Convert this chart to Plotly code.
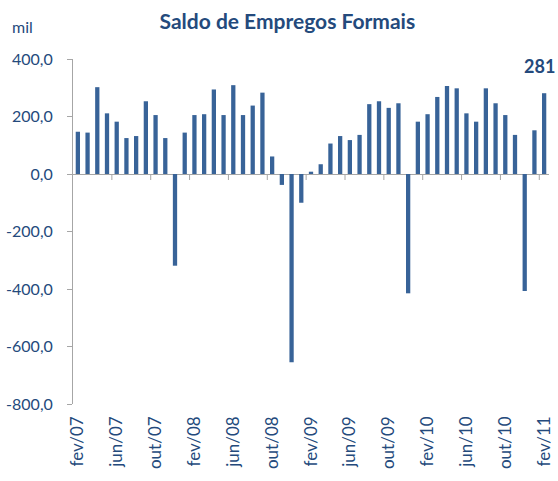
import plotly.graph_objects as go

months = ["jan", "fev", "mar", "abr", "mai", "jun", "jul", "ago", "set", "out", "nov", "dez"]
categories = []
for yr in range(7, 12):
    for m in months:
        categories.append(f"{m}/{yr:02d}")
categories = categories[1:50]  # fev/07 .. fev/11

values = [147, 144, 302, 211, 182, 125, 132, 253, 205, 125, -319,
          144, 205, 208, 294, 205, 309, 205, 238, 283, 61, -38, -655,
          -100, 8, 34, 106, 132, 118, 136, 243, 253, 230, 246, -415,
          182, 208, 268, 306, 298, 211, 182, 298, 246, 205, 136, -407,
          152, 281]

tick_labels = categories[::4]
last_label = "281"

BAR = "#386398"
TXT = "#244A7C"
GRID = "#A6A6A6"
FONT = "Lato, Open Sans, sans-serif"

fig = go.Figure(go.Bar(x=categories, y=values, marker=dict(color=BAR, line=dict(width=0)),
                       hoverinfo="x+y"))

shapes = []
n = len(categories)
for k in range(3, n, 4):
    b = k + 0.5
    if b < n - 0.5:
        shapes.append(dict(type="line", xref="x", yref="y", ysizemode="pixel", yanchor=0,
                           x0=b, x1=b, y0=0, y1=-6, line=dict(color=GRID, width=1)))

fig.update_layout(
    width=558, height=481,
    margin=dict(l=73, r=9, t=59, b=77, autoexpand=False),
    paper_bgcolor="white", plot_bgcolor="white",
    bargap=0.56,
    showlegend=False,
    font=dict(family=FONT, color=TXT),
    title=dict(text="<b>Saldo de Empregos Formais</b>", x=0.515, xanchor="center", y=0.955,
               yanchor="middle", font=dict(size=21, color=TXT, family=FONT)),
    xaxis=dict(type="category", tickmode="array", tickvals=tick_labels, ticktext=tick_labels,
               range=[-0.5, n - 0.5],
               tickangle=-90, ticks="", showline=False, showgrid=False, zeroline=False,
               automargin=False,
               tickfont=dict(size=17, color=TXT, family=FONT), ticklabelstandoff=8),
    yaxis=dict(range=[-800, 400], tickvals=[-800, -600, -400, -200, 0, 200, 400],
               ticktext=["-800,0", "-600,0", "-400,0", "-200,0", "0,0", "200,0", "400,0"],
               showgrid=False, zeroline=True, zerolinecolor=GRID, zerolinewidth=1,
               showline=True, linecolor=GRID, linewidth=1, ticks="outside", ticklen=5,
               tickcolor=GRID, tickfont=dict(size=16, color=TXT, family=FONT),
               automargin=False, ticklabelstandoff=11),
    shapes=shapes,
    annotations=[
        dict(x=categories[-1], y=values[-1], xref="x", yref="y", text=f"<b>{last_label}</b>",
             showarrow=False, yanchor="bottom", yshift=14, xshift=-5,
             font=dict(size=18, color=TXT, family=FONT)),
        dict(x=-0.132, y=1.095, xref="paper", yref="paper", text="mil", showarrow=False,
             xanchor="left", yanchor="middle",
             font=dict(size=16, color=TXT, family=FONT)),
    ],
)

fig.write_html("out.html", config={"displayModeBar": False},
               post_script="document.body.style.margin='0';document.body.style.padding='0';")
